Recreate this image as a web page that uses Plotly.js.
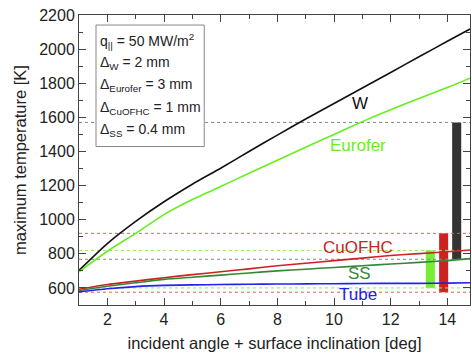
<!DOCTYPE html>
<html><head><meta charset="utf-8">
<script src="https://cdn.plot.ly/plotly-3.0.1.min.js"></script>
<style>html,body{margin:0;padding:0;background:#fff}#c{width:472px;height:363px}</style>
</head><body><div id="c"></div>
<script>
const angle = [1, 2, 3, 4, 5, 6, 7, 8, 9, 10, 11, 12, 13, 14, 14.8];
const tW       = [703, 860, 990, 1105, 1208, 1302, 1400, 1496, 1590, 1681, 1772, 1863, 1955, 2046, 2118];
const tEurofer = [695, 815, 920, 1030, 1118, 1195, 1272, 1348, 1425, 1500, 1575, 1645, 1710, 1775, 1830];
const tCu      = [592, 620, 640, 660, 678, 695, 712, 730, 745, 760, 775, 790, 801, 812, 822];
const tSS      = [585, 610, 630, 650, 663, 675, 688, 700, 710, 720, 730, 740, 750, 760, 772];
const tTube    = [577, 595, 608, 615, 618, 620, 622, 623, 624, 625, 626, 627, 627, 628, 630];

const limitLevels = [1570, 768, 920, 575, 820, 600];
const limitColors = ['#888888', '#888888', '#e06060', '#e06060', '#88ee66', '#88ee66'];

const barX = [13.4, 13.87, 14.33];
const barLow = [600, 575, 770];
const barHigh = [820, 920, 1570];
const barColors = ['#77ee33', '#cc2222', '#333333'];

const seriesNames = ['W', 'Eurofer', 'CuOFHC', 'SS', 'Tube'];
const seriesData = [tW, tEurofer, tCu, tSS, tTube];
const seriesColors = ['#111111', '#66ee22', '#cc2222', '#338833', '#2222ee'];
const labelX = [10.9, 10.85, 10.85, 10.9, 10.85];
const labelY = [1680, 1435, 840, 682, 560];

const boxLines = ['q<sub>||</sub> = 50 MW/m<sup>2</sup>', 'Δ<sub>W</sub> = 2 mm', 'Δ<sub>Eurofer</sub> = 3 mm', 'Δ<sub>CuOFHC</sub> = 1 mm', 'Δ<sub>SS</sub> = 0.4 mm'];
const boxLineY = [2047, 1918, 1788, 1653, 1524];

const xr = [1, 14.8];
const traces = [];
limitLevels.forEach((v, i) => {
  traces.push({x: xr, y: [v, v], mode: 'lines', line: {color: limitColors[i], width: 1, dash: 'dot'}, hoverinfo: 'skip'});
});
seriesData.forEach((d, i) => {
  traces.push({x: angle, y: d, mode: 'lines', name: seriesNames[i], line: {color: seriesColors[i], width: 1.6, shape: 'spline', smoothing: 0.6}});
});
traces.push({type: 'bar', x: barX, base: barLow, y: barHigh.map((h, i) => h - barLow[i]), width: 0.32, marker: {color: barColors, line: {width: 0}}});

const annotations = seriesNames.map((n, i) => ({x: labelX[i], y: labelY[i], text: n, showarrow: false, font: {size: 17, color: seriesColors[i]}}));
boxLines.forEach((t, i) => annotations.push({x: 1.67, y: boxLineY[i], text: t, xanchor: 'left', showarrow: false, font: {size: 14, color: '#222'}}));

const ax = {ticks: 'inside', ticklen: 7, tickcolor: '#444', showline: true, linecolor: '#444', linewidth: 1, mirror: 'ticks', showgrid: false, zeroline: false,
  tickfont: {size: 16, color: '#222', family: 'Liberation Sans, Arial, sans-serif'}};

Plotly.newPlot('c', traces, {
  width: 472, height: 363,
  margin: {l: 79, r: 2, t: 15, b: 58},
  showlegend: false,
  paper_bgcolor: '#fff', plot_bgcolor: '#fff',
  font: {family: 'Liberation Sans, Arial, sans-serif', color: '#222'},
  xaxis: Object.assign({}, ax, {range: xr, dtick: 2, tick0: 0, minor: {ticks: 'inside', ticklen: 4, dtick: 1, tickcolor: '#444'},
    title: {text: 'incident angle + surface inclination [deg]', font: {size: 16.5}, standoff: 10}}),
  yaxis: Object.assign({}, ax, {range: [500, 2200], dtick: 200, tick0: 0, minor: {ticks: 'inside', ticklen: 4, dtick: 100, tickcolor: '#444'},
    title: {text: 'maximum temperature [K]', font: {size: 16.5}, standoff: 8}}),
  shapes: [{type: 'rect', xref: 'x', yref: 'y', x0: 1.6, x1: 5.42, y0: 1429, y1: 2141, line: {color: '#888', width: 1}, fillcolor: 'rgba(255,255,255,1)', layer: 'above'}],
  annotations: annotations
}, {staticPlot: true});
</script></body></html>
